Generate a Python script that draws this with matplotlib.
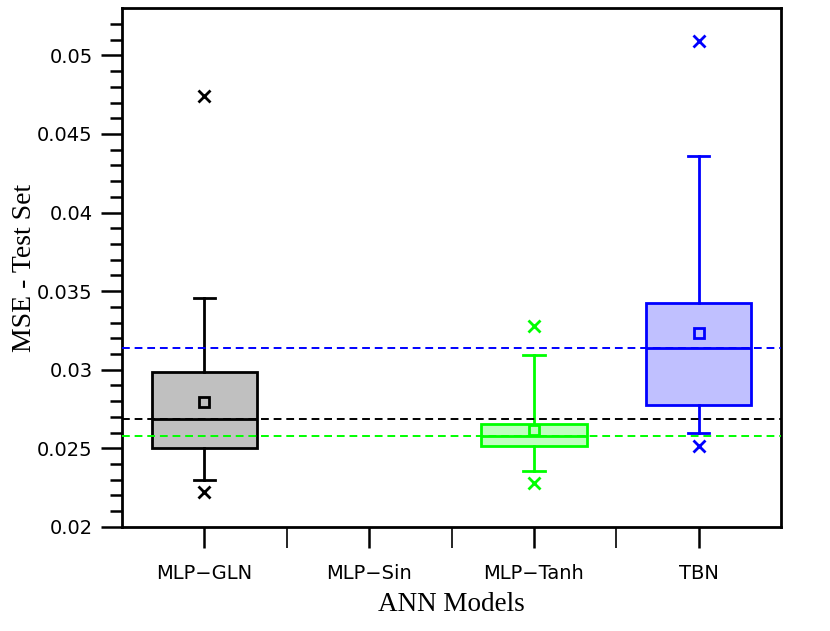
import numpy as np
import matplotlib.pyplot as plt

# Modelos e estatisticas (MSE no conjunto de teste)
modelos = ["MLP\u2212GLN", "MLP\u2212Sin", "MLP\u2212Tanh", "TBN"]
posicoes = [1, 3, 4]          # MLP-Sin nao tem dados
medianas = [0.02688, 0.02580, 0.03140]
q1 = [0.02500, 0.02516, 0.02777]
q3 = [0.02985, 0.02656, 0.03427]
whislo = [0.02300, 0.02357, 0.02599]
whishi = [0.03459, 0.03096, 0.04360]
medias = [0.02797, 0.02618, 0.03236]
outliers = [[0.02223, 0.04739], [0.02280, 0.03280], [0.02516, 0.05090]]

cores_borda = ["black", "#00ff00", "#0000ff"]
cores_fundo = ["#c0c0c0", "#c0ffc0", "#c0c0ff"]

fig, ax = plt.subplots(figsize=(8.3, 6.31), dpi=100)
fig.subplots_adjust(left=0.147, right=0.941, top=0.987, bottom=0.165)

for i, pos in enumerate(posicoes):
    stats = [{
        "med": medianas[i], "q1": q1[i], "q3": q3[i],
        "whislo": whislo[i], "whishi": whishi[i],
        "mean": medias[i], "fliers": outliers[i],
    }]
    c = cores_borda[i]
    ax.bxp(stats, positions=[pos], widths=0.64, capwidths=0.13,
           showmeans=True, patch_artist=True,
           boxprops=dict(facecolor=cores_fundo[i], edgecolor=c, linewidth=2),
           medianprops=dict(color=c, linewidth=2),
           whiskerprops=dict(color=c, linewidth=2),
           capprops=dict(color=c, linewidth=2),
           meanprops=dict(marker="s", markerfacecolor="none", markeredgecolor=c,
                          markersize=7.5, markeredgewidth=2),
           flierprops=dict(marker="x", markeredgecolor=c, markersize=9,
                           markeredgewidth=2))

# Linhas tracejadas nas medianas
ordem_linhas = [2, 0, 1]
for i in ordem_linhas:
    ax.axhline(medianas[i], color=cores_borda[i], linestyle=(0, (4, 2.5)),
               linewidth=1.4, zorder=5)

ax.set_xlim(0.5, 4.5)
ax.set_ylim(0.02, 0.053)
ax.set_xticks([1, 2, 3, 4])
ax.set_xticklabels(modelos)
ax.set_xticks([1.5, 2.5, 3.5], minor=True)
ax.set_yticks(np.arange(0.02, 0.0501, 0.005))
ax.set_yticklabels(["0.02", "0.025", "0.03", "0.035", "0.04", "0.045", "0.05"])
ax.set_yticks(np.arange(0.021, 0.0521, 0.001), minor=True)

ax.tick_params(axis="both", which="major", direction="out", length=15, width=1.8,
               labelsize=14, pad=6)
ax.tick_params(axis="y", which="minor", direction="out", length=9, width=1.8)
ax.tick_params(axis="x", which="minor", direction="out", length=15, width=1.2)
ax.tick_params(axis="x", which="major", pad=12)
for s in ax.spines.values():
    s.set_linewidth(2)

ax.set_xlabel("ANN Models", family="Liberation Serif", fontsize=19.5, labelpad=6)
ax.set_ylabel("MSE - Test Set", family="Liberation Serif", fontsize=20, labelpad=0)

plt.savefig("out.png")
